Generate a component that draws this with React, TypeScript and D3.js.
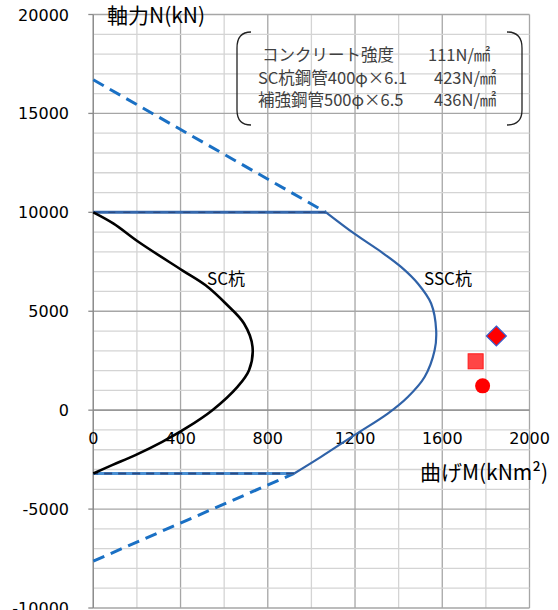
import React from 'react';
import * as d3 from 'd3';

// SC杭 interaction curve (M kNm, N kN)
const scM = [0, 93, 208, 408, 515, 607, 691, 730, 714, 661, 546, 423, 316, 193, 86, 0];
const scN = [10000, 9430, 8500, 7070, 6310, 5390, 4380, 3200, 2020, 1180, 0, -925, -1600, -2270, -2780, -3200];

// SSC杭 interaction curve
const sscM = [0, 1067, 1197, 1320, 1411, 1488, 1549, 1572, 1565, 1519, 1442, 1350, 1197, 1044, 921, 0];
const sscN = [10000, 10000, 8920, 8000, 7240, 6400, 5390, 4040, 3030, 1680, 670, -170, -1260, -2360, -3200, -3200];

// dashed extension lines
const upperM = [0, 1067];
const upperN = [16700, 10000];
const lowerM = [0, 921];
const lowerN = [-7630, -3200];

// test results
const testShapes = ['diamond', 'square', 'circle'];
const testM = [1848, 1753, 1785];
const testN = [3750, 2470, 1230];

const xTicks = [0, 400, 800, 1200, 1600, 2000];
const yTicks = [-10000, -5000, 0, 5000, 10000, 15000, 20000];

const legendNames = ['コンクリート強度', 'SC杭鋼管400φ×6.1', '補強鋼管500φ×6.5'];
const legendValues = ['111N/㎟', '423N/㎟', '436N/㎟'];

const zip = (a: number[], b: number[]): [number, number][] => a.map((v, i) => [v, b[i]]);

export default function App() {
  const x = d3.scaleLinear().domain([0, 2000]).range([93.3, 529.5]);
  const y = d3.scaleLinear().domain([-10000, 20000]).range([608, 14.5]);

  const line = d3.line<[number, number]>().x(d => x(d[0])).y(d => y(d[1]));
  const curve = d3.line<[number, number]>().x(d => x(d[0])).y(d => y(d[1])).curve(d3.curveCatmullRom.alpha(0.5));

  const sc = zip(scM, scN);
  const ssc = zip(sscM, sscN);
  const sscTop = ssc.slice(0, 2);
  const sscMid = ssc.slice(1, ssc.length - 1);
  const sscBottom = ssc.slice(ssc.length - 2);

  const minorX = d3.range(0, 2001, 200);
  const minorY = d3.range(-10000, 20001, 1000);

  const cjk = '"Noto Sans CJK JP", sans-serif';
  const num = '"DejaVu Sans", sans-serif';

  return (
    <svg width={558} height={610} style={{ position: 'absolute', left: 0, top: 0, background: '#fff' }}>
      {/* grid */}
      <g>
        {minorX.map(v => (
          <line key={'gx' + v} x1={x(v)} x2={x(v)} y1={y(20000)} y2={y(-10000)}
            stroke={v % 400 === 0 ? '#a6a6a6' : '#d4d4d4'} strokeWidth={1.3} />
        ))}
        {minorY.map(v => (
          <line key={'gy' + v} x1={x(0)} x2={x(2000)} y1={y(v)} y2={y(v)}
            stroke={v % 5000 === 0 ? '#a6a6a6' : '#d4d4d4'} strokeWidth={1.3} />
        ))}
        {yTicks.map(v => (
          <line key={'ty' + v} x1={x(0) - 5} x2={x(0)} y1={y(v)} y2={y(v)} stroke="#8c8c8c" strokeWidth={1.3} />
        ))}
        <line x1={x(0)} x2={x(0)} y1={y(20000)} y2={y(-10000)} stroke="#8c8c8c" strokeWidth={1.3} />
        <line x1={x(0)} x2={x(2000)} y1={y(0)} y2={y(0)} stroke="#8c8c8c" strokeWidth={1.3} />
      </g>

      {/* tick labels */}
      <g fontFamily={num} fontSize={16} fill="#000">
        {yTicks.map(v => (
          <text key={'ly' + v} x={69} y={y(v) + 6} textAnchor="end">{v}</text>
        ))}
        {xTicks.map(v => (
          <text key={'lx' + v} x={x(v)} y={y(0) + 34} textAnchor="middle">{v}</text>
        ))}
      </g>

      {/* dashed limit lines */}
      <path d={line(zip(upperM, upperN)) || ''} fill="none" stroke="#1a70c4" strokeWidth={3} strokeDasharray="12,7" />
      <path d={line(zip(lowerM, lowerN)) || ''} fill="none" stroke="#1a70c4" strokeWidth={3} strokeDasharray="12,7" />

      {/* SSC杭 */}
      <path d={line(sscTop) || ''} fill="none" stroke="#3568ad" strokeWidth={3} />
      <path d={line(sscTop) || ''} fill="none" stroke="#2b4a82" strokeWidth={1.2} strokeDasharray="7,8" />
      <path d={line(sscBottom) || ''} fill="none" stroke="#4a90d4" strokeWidth={3} />
      <path d={line(sscBottom) || ''} fill="none" stroke="#2b4a82" strokeWidth={2} strokeDasharray="8,6" />
      <path d={curve(sscMid) || ''} fill="none" stroke="#2f62a8" strokeWidth={2.2} />

      {/* SC杭 */}
      <path d={curve(sc) || ''} fill="none" stroke="#000" strokeWidth={2.6} />

      {/* test points */}
      {testShapes.map((s, i) => {
        const cx = x(testM[i]);
        const cy = y(testN[i]);
        if (s === 'diamond') {
          return <path key={s} d={`M${cx},${cy - 10}L${cx + 10},${cy}L${cx},${cy + 10}L${cx - 10},${cy}Z`}
            fill="#ff0000" stroke="#3a5fcd" strokeWidth={1.2} />;
        }
        if (s === 'square') {
          return <rect key={s} x={cx - 7.5} y={cy - 7.5} width={15} height={15} fill="#ff4545" stroke="#ff1a1a" strokeWidth={1} />;
        }
        return <circle key={s} cx={cx} cy={cy} r={7.5} fill="#ff0000" />;
      })}

      {/* curve labels */}
      <g fontFamily={cjk} fontSize={17} fill="#000">
        <text x={226} y={285} textAnchor="middle">SC杭</text>
        <text x={448} y={285} textAnchor="middle">SSC杭</text>
      </g>

      {/* legend box */}
      <path d="M251,32 Q237,32 237,48 L237,110 Q237,125 251,125" fill="none" stroke="#222" strokeWidth={1.3} />
      <path d="M507,32 Q522,32 522,48 L522,110 Q522,125 507,125" fill="none" stroke="#222" strokeWidth={1.3} />
      <g fontFamily={cjk} fontSize={16.5} fill="#404040">
        {legendNames.map((t, i) => (
          <text key={t} x={i === 0 ? 262 : 258} y={61 + i * 22.5}>{t}</text>
        ))}
        {legendValues.map((t, i) => (
          <text key={t + i} x={i === 0 ? 428 : 434} y={61 + i * 22.5}>{t}</text>
        ))}
      </g>

      {/* axis titles */}
      <text x={107} y={23} fontFamily={cjk} fontSize={21} fill="#000">軸力N(kN)</text>
      <text x={548} y={480} textAnchor="end" fontFamily={cjk} fontSize={21} fill="#000">曲げM(kNm²)</text>
    </svg>
  );
}
